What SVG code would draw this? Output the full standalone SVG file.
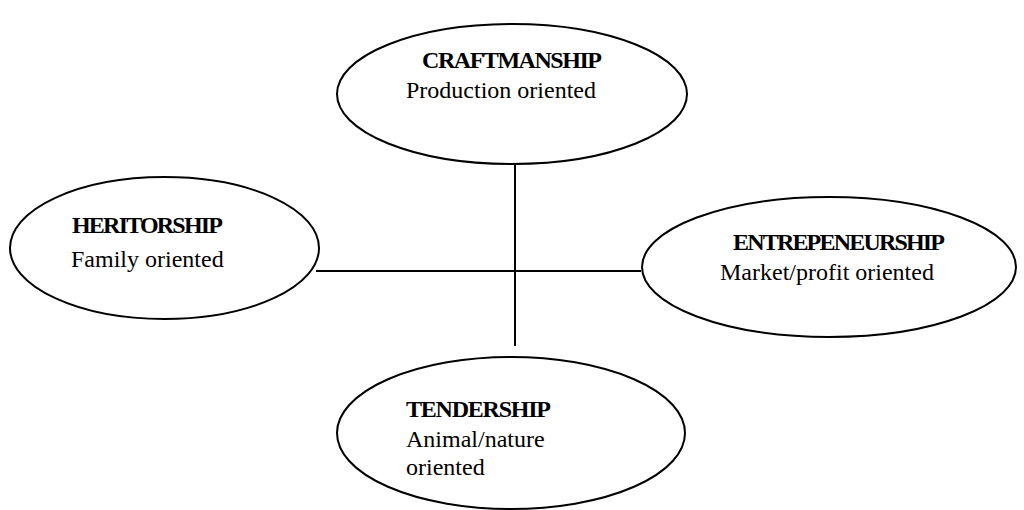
<svg xmlns="http://www.w3.org/2000/svg" width="1024" height="510" viewBox="0 0 1024 510">
<style>
.node ellipse{fill:#fff;stroke:#000;stroke-width:2}
.t{font-family:"Liberation Serif","Times New Roman",serif;font-size:24px;fill:#000}
.b{font-weight:bold}
.conn line{stroke:#000;stroke-width:2}
</style>
<rect width="1024" height="510" fill="#fff"/>
<g class="conn" id="connectors">
<line x1="515" y1="164" x2="515" y2="346"/>
<line x1="316" y1="271" x2="641" y2="271"/>
</g>
<g class="node" id="craftmanship">
<ellipse cx="512" cy="94" rx="175" ry="70"/>
<text class="t b" x="422" y="68" textLength="180" lengthAdjust="spacing">CRAFTMANSHIP</text>
<text class="t" x="406" y="98">Production oriented</text>
</g>
<g class="node" id="heritorship">
<ellipse cx="164.5" cy="248" rx="154.5" ry="71"/>
<text class="t b" x="72" y="233" textLength="151" lengthAdjust="spacing">HERITORSHIP</text>
<text class="t" x="71" y="267">Family oriented</text>
</g>
<g class="node" id="entrepeneurship">
<ellipse cx="829" cy="267" rx="187" ry="70"/>
<text class="t b" x="733" y="250" textLength="212" lengthAdjust="spacing">ENTREPENEURSHIP</text>
<text class="t" x="720" y="280">Market/profit oriented</text>
</g>
<g class="node" id="tendership">
<ellipse cx="511" cy="433" rx="174" ry="76"/>
<text class="t b" x="406" y="417" textLength="145" lengthAdjust="spacing">TENDERSHIP</text>
<text class="t" x="406" y="447">Animal/nature</text>
<text class="t" x="406" y="475">oriented</text>
</g>
</svg>
